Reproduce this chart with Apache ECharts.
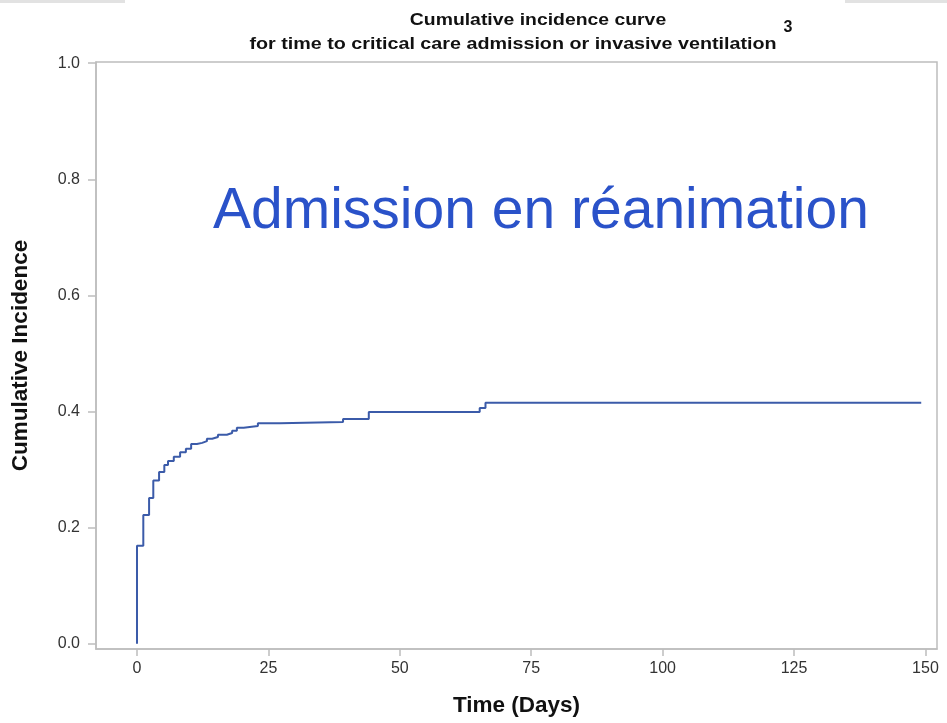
<!DOCTYPE html>
<html>
<head>
<meta charset="utf-8">
<script src="https://cdn.jsdelivr.net/npm/echarts@6/dist/echarts.min.js"></script>
<style>
html,body{margin:0;padding:0;background:#fff;}
#chart{width:947px;height:723px;}
</style>
</head>
<body>
<div id="chart"></div>
<script>
// Data
const times = [0, 0, 1.2, 2.3, 3.1, 4.2, 5.2, 5.9, 7.0, 8.2, 9.3, 10.3, 11.4, 12.4, 13.3, 14.3, 15.4, 17.1, 18.1, 19.0, 20.3, 23.0, 27.2, 39.2, 44.1, 65.2, 66.3, 149.2];
const incidence = [0, 0.169, 0.222, 0.251, 0.281, 0.296, 0.308, 0.315, 0.322, 0.330, 0.336, 0.344, 0.346, 0.349, 0.353, 0.356, 0.360, 0.363, 0.367, 0.372, 0.375, 0.380, 0.382, 0.387, 0.399, 0.406, 0.415, 0.415];
const xTicks = [0, 25, 50, 75, 100, 125, 150];
const yTicks = [0.0, 0.2, 0.4, 0.6, 0.8, 1.0];

const sans = '"Liberation Sans", Arial, Helvetica, sans-serif';

const chart = echarts.init(document.getElementById('chart'), null, {renderer: 'canvas'});
chart.setOption({
  animation: false,
  backgroundColor: '#fff',
  graphic: [
    {type: 'rect', shape: {x: 0, y: 0, width: 125, height: 3}, style: {fill: '#e2e2e2'}, silent: true},
    {type: 'rect', shape: {x: 845, y: 0, width: 102, height: 3}, style: {fill: '#e2e2e2'}, silent: true},
    {type: 'text', x: 538, y: 20, scaleX: 1.14,
      style: {text: 'Cumulative incidence curve', fill: '#111', font: 'bold 17px ' + sans, align: 'center', verticalAlign: 'middle'}},
    {type: 'text', x: 513, y: 44, scaleX: 1.16,
      style: {text: 'for time to critical care admission or invasive ventilation', fill: '#111', font: 'bold 17px ' + sans, align: 'center', verticalAlign: 'middle'}},
    {type: 'text', x: 788, y: 28,
      style: {text: '3', fill: '#111', font: 'bold 16px ' + sans, align: 'center', verticalAlign: 'middle'}},
    {type: 'text', x: 213, y: 212,
      style: {text: 'Admission en réanimation', fill: '#2a52c9', font: '57px ' + sans, align: 'left', verticalAlign: 'middle'}}
  ],
  grid: {
    left: 96, right: 10, top: 62, bottom: 74,
    outerBoundsMode: 'none', containLabel: false,
    show: true, borderColor: '#bdbdbd', borderWidth: 1.5
  },
  xAxis: {
    type: 'value', min: -7.8, max: 152.2,
    name: 'Time (Days)', nameLocation: 'middle', nameGap: 45,
    nameTextStyle: {fontFamily: sans, fontWeight: 'bold', fontSize: 22.5, color: '#111'},
    axisLine: {show: true, onZero: false, lineStyle: {color: '#bdbdbd', width: 1.5}},
    axisTick: {show: true, length: 7, customValues: xTicks, lineStyle: {color: '#bdbdbd', width: 1.5}},
    axisLabel: {customValues: xTicks, margin: 12, fontFamily: sans, fontSize: 16, color: '#333'},
    splitLine: {show: false}
  },
  yAxis: {
    type: 'value', min: -0.009, max: 1.002,
    name: 'Cumulative Incidence', nameLocation: 'middle', nameGap: 64, nameRotate: 90,
    nameTextStyle: {fontFamily: sans, fontWeight: 'bold', fontSize: 22.5, color: '#111'},
    axisLine: {show: true, onZero: false, lineStyle: {color: '#bdbdbd', width: 1.5}},
    axisTick: {show: true, length: 8, customValues: yTicks, lineStyle: {color: '#bdbdbd', width: 1.5}},
    axisLabel: {customValues: yTicks, margin: 16, fontFamily: sans, fontSize: 16, color: '#333',
      formatter: v => v.toFixed(1)},
    splitLine: {show: false}
  },
  series: [{
    type: 'line', step: 'end', showSymbol: false,
    data: times.map((t, i) => [t, incidence[i]]),
    lineStyle: {color: '#3b5ba9', width: 2},
    itemStyle: {color: '#3b5ba9'}
  }]
});
</script>
</body>
</html>
